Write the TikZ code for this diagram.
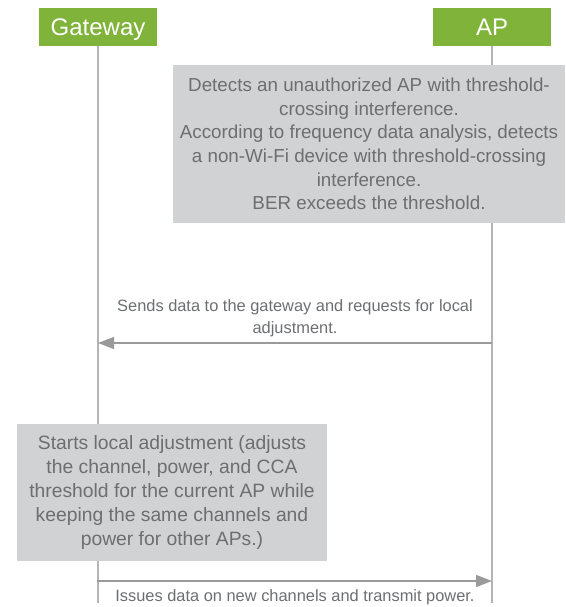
\documentclass[tikz,border=0pt]{standalone}
\usepackage{fontspec}
\setmainfont{Liberation Sans}
\usetikzlibrary{arrows.meta}
\definecolor{hdrgreen}{HTML}{80B33A}
\definecolor{boxgray}{HTML}{D1D2D4}
\definecolor{txtgray}{HTML}{6D6E71}
\definecolor{lifegray}{HTML}{B4B4B4}
\definecolor{arrgray}{HTML}{9A9A9C}
\tikzset{
  hdr/.style={fill=hdrgreen, text=white, minimum width=118pt, minimum height=38pt, inner sep=0pt,
    text height=17.3pt, text depth=0pt, font=\fontsize{24}{26}\selectfont},
  notebox/.style={fill=boxgray, text=txtgray, inner sep=0pt, align=center,
    font=\fontsize{18.8}{23.7}\selectfont},
  msglabel/.style={text=txtgray, inner sep=0pt, align=center,
    font=\fontsize{16.4}{22}\selectfont},
  lifeline/.style={draw=lifegray, line width=1.5pt},
  msg/.style={draw=arrgray, line width=1.4pt, -{Triangle[length=16pt,width=12pt]}}
}
\begin{document}
\begin{tikzpicture}[x=1pt,y=-1pt]
\useasboundingbox (0,0) rectangle (565,607);
% headers
\node[hdr] (gw) at (98,27) {Gateway};
\node[hdr] (ap) at (492,27) {AP};
% lifeline ends
\coordinate (gwend) at (98,603);
\coordinate (apend) at (492,603);
\draw[lifeline] (gw.south) -- (gwend);
\draw[lifeline] (ap.south) -- (apend);
% note boxes
\node[notebox, minimum width=392pt, minimum height=158pt] (n1) at (369,144)
  {Detects an unauthorized AP with threshold-\\crossing interference.\\According to frequency data analysis, detects\\a non-Wi-Fi device with threshold-crossing\\interference.\\BER exceeds the threshold.};
\node[notebox, minimum width=310pt, minimum height=137pt, font=\fontsize{19.3}{24}\selectfont] (n2) at (172,492.5)
  {Starts local adjustment (adjusts\\the channel, power, and CCA\\threshold for the current AP while\\keeping the same channels and\\power for other APs.)};
% messages
\coordinate (m1s) at (492,343);
\coordinate (m1e) at (98,343);
\draw[msg] (m1s) -- (m1e);
\node[msglabel] (l1) at (295,318) {Sends data to the gateway and requests for local\\adjustment.};
\coordinate (m2s) at (96.5,581);
\coordinate (m2e) at (492,581);
\draw[msg] (m2s) -- (m2e);
\node[msglabel] (l2) at (295,597) {Issues data on new channels and transmit power.};
\end{tikzpicture}
\end{document}
